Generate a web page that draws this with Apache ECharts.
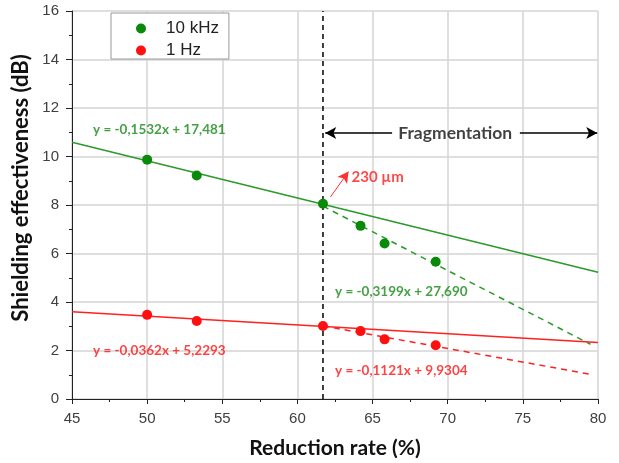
<!DOCTYPE html>
<html><head><meta charset="utf-8">
<script src="https://cdn.jsdelivr.net/npm/echarts@6/dist/echarts.min.js"></script>
<style>html,body{margin:0;padding:0;background:#fff}#c{width:619px;height:463px}</style>
</head><body><div id="c"></div>
<script>
// Data
const xKHz = [50, 53.3, 61.7, 64.2, 65.8, 69.2];
const yKHz = [9.87, 9.22, 8.05, 7.14, 6.41, 5.66];
const xHz = [50, 53.3, 61.7, 64.2, 65.8, 69.2];
const yHz = [3.47, 3.22, 3.01, 2.80, 2.46, 2.22];
// Trend line end points (from the printed equations)
const fitKHzAll = [[45, 10.587], [80, 5.225]];
const fitKHzFrag = [[61.7, 7.952], [79.5, 2.258]];
const fitHzAll = [[45, 3.600], [80, 2.333]];
const fitHzFrag = [[61.7, 3.014], [79.5, 1.019]];
const fragX = 61.7;
const fragY = 10.97;
const eqLabels = [
  [46.4, 11.1, 'y = -0,1532x + 17,481', '#178a17'],
  [62.5, 4.42, 'y = -0,3199x + 27,690', '#178a17'],
  [46.4, 1.98, 'y = -0,0362x + 5,2293', '#ff1414'],
  [62.5, 1.15, 'y = -0,1121x + 9,9304', '#ff1414']
];
const green = '#0a8a0a', red = '#ff1010';
const chart = echarts.init(document.getElementById('c'), null, {renderer: 'canvas'});
const fontA = '"Liberation Sans", Arial, sans-serif';
const fontB = 'Lato, "Open Sans", sans-serif';
chart.setOption({
  animation: false,
  grid: {left: 72, right: 21, top: 11, bottom: 64, outerBoundsMode: 'none', containLabel: false},
  legend: {
    left: 111, top: 13, orient: 'vertical',
    backgroundColor: '#fff', borderColor: '#999', borderWidth: 1,
    padding: [7, 10, 0, 25], itemWidth: 10, itemHeight: 10, itemGap: 5,
    textStyle: {fontFamily: fontA, fontSize: 17, color: '#222', padding: [0, 0, 0, 15]},
    data: [{name: '10 kHz', icon: 'circle'}, {name: '1 Hz', icon: 'circle'}]
  },
  xAxis: {
    type: 'value', min: 45, max: 80, interval: 5,
    name: 'Reduction rate (%)', nameLocation: 'middle', nameGap: 39,
    nameTextStyle: {fontFamily: fontB, fontWeight: 'bold', fontSize: 21, color: '#111'},
    axisLine: {lineStyle: {color: '#222', width: 1}},
    axisTick: {show: true, length: 5, lineStyle: {color: '#222'}},
    minorTick: {show: true, splitNumber: 2, length: 3, lineStyle: {color: '#222'}},
    axisLabel: {fontFamily: fontA, fontSize: 15, color: '#404040', margin: 12},
    splitLine: {show: true, lineStyle: {color: '#d4d4d4', width: 1.5}}
  },
  yAxis: {
    type: 'value', min: 0, max: 16, interval: 2,
    name: 'Shielding effectiveness (dB)', nameLocation: 'middle', nameGap: 32,
    nameTextStyle: {fontFamily: fontB, fontWeight: 'bold', fontSize: 22, color: '#111', padding: [0, 0, 0, 34]},
    axisLine: {show: true, lineStyle: {color: '#222', width: 1}},
    axisTick: {show: true, length: 6, lineStyle: {color: '#222'}},
    minorTick: {show: true, splitNumber: 2, length: 3, lineStyle: {color: '#222'}},
    axisLabel: {fontFamily: fontA, fontSize: 15, color: '#404040', margin: 13},
    splitLine: {show: true, lineStyle: {color: '#d4d4d4', width: 1.5}}
  },
  series: [
    {type: 'line', data: fitKHzAll, showSymbol: false, silent: true, lineStyle: {color: '#2a9a2a', width: 1.5}, z: 2},
    {type: 'line', data: fitKHzFrag, showSymbol: false, silent: true, lineStyle: {color: '#2a9a2a', width: 1.5, type: [6, 5]}, z: 2},
    {type: 'line', data: fitHzAll, showSymbol: false, silent: true, lineStyle: {color: '#ff2020', width: 1.5}, z: 2},
    {type: 'line', data: fitHzFrag, showSymbol: false, silent: true, lineStyle: {color: '#ff2020', width: 1.5, type: [6, 5]}, z: 2},
    {type: 'line', data: [[fragX, 0], [fragX, 16]], showSymbol: false, silent: true, lineStyle: {color: '#000', width: 1.5, type: [5, 4]}, z: 3,
      markLine: {
        silent: true, symbol: ['none', 'arrow'], symbolSize: [9, 11], label: {show: false},
        lineStyle: {color: '#000', width: 1.5, type: 'solid'},
        data: [
          [{coord: [66.3, fragY]}, {coord: [fragX + 0.15, fragY]}],
          [{coord: [74.8, fragY]}, {coord: [79.95, fragY]}],
          [{coord: [62.2, 8.33], lineStyle: {color: '#ff3030', width: 1}, symbolSize: [6, 7]}, {coord: [63.4, 9.38]}]
        ]
      }
    },
    {name: '10 kHz', type: 'scatter', data: xKHz.map((x, i) => [x, yKHz[i]]), symbolSize: 10, itemStyle: {color: green, opacity: 1}, z: 5},
    {name: '1 Hz', type: 'scatter', data: xHz.map((x, i) => [x, yHz[i]]), symbolSize: 10, itemStyle: {color: red, opacity: 1}, z: 5},
    {type: 'scatter', silent: true, symbolSize: 0, z: 6,
      data: eqLabels.map(d => ({value: [d[0], d[1]], label: {show: true, position: 'right', distance: 0, formatter: d[2], color: d[3],
        fontFamily: fontB, fontWeight: 'bold', fontSize: 13.5}})).concat([
        {value: [70.5, fragY], label: {show: true, position: 'inside', formatter: 'Fragmentation', color: '#111', fontFamily: fontB, fontWeight: 'bold', fontSize: 17.5}},
        {value: [63.6, 9.15], label: {show: true, position: 'right', distance: 0, formatter: '230 µm', color: '#ff1a1a', fontFamily: fontB, fontWeight: 'bold', fontSize: 15}}
      ])
    }
  ]
});
</script></body></html>
